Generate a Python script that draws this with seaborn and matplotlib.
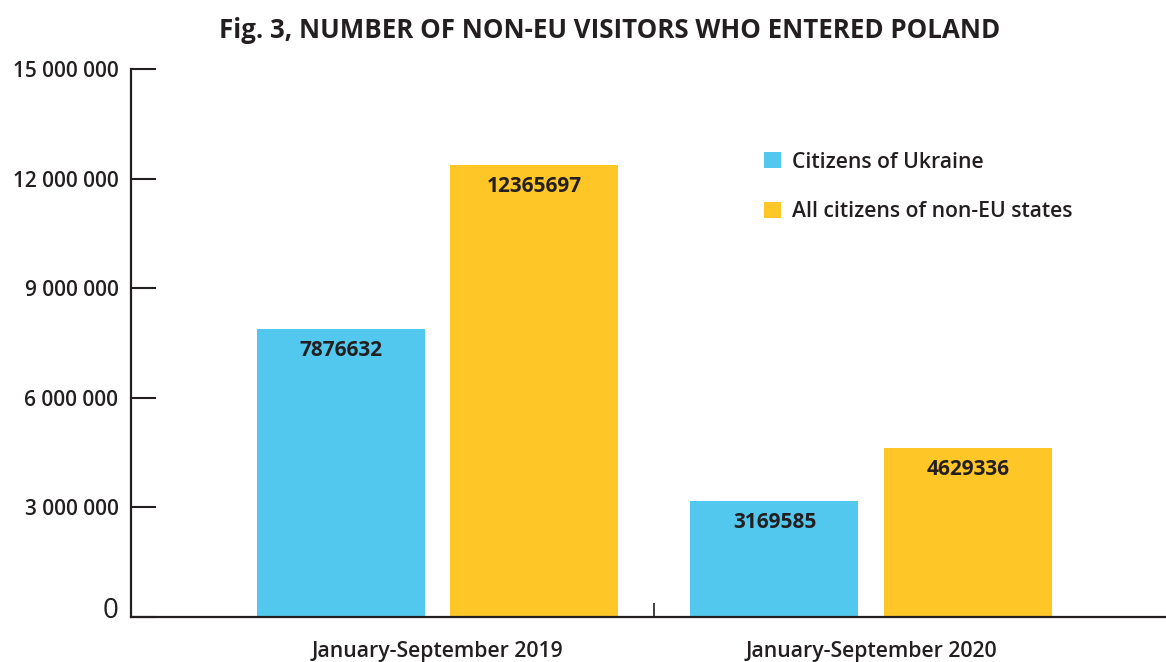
import matplotlib
matplotlib.use("Agg")
import matplotlib.pyplot as plt
import matplotlib.transforms as mtransforms
import seaborn as sns
import pandas as pd
from matplotlib.ticker import FixedLocator

periods = ["January-September 2019", "January-September 2020"]
groups = ["Citizens of Ukraine", "All citizens of non-EU states"]
ukraine = [7876632, 3169585]
all_non_eu = [12365697, 4629336]
y_ticks = [0, 3000000, 6000000, 9000000, 12000000, 15000000]
y_tick_labels = ["0", "3 000 000", "6 000 000", "9 000 000", "12 000 000", "15 000 000"]
colors = ["#53C8EE", "#FFC627"]

df = pd.DataFrame({
    "period": periods * 2,
    "group": [groups[0]] * 2 + [groups[1]] * 2,
    "value": ukraine + all_non_eu,
})

sns.set_theme(style="white")
plt.rcParams["font.family"] = ["Open Sans", "DejaVu Sans"]
text_color = "#231f20"

fig = plt.figure(figsize=(11.66, 6.62), dpi=100)
ax = fig.add_axes([131 / 1166, 45 / 662, 1 - 131 / 1166, 548 / 662])

sns.barplot(data=df, x="period", y="value", hue="group", hue_order=groups,
            palette=colors, width=0.892, gap=0.131, ax=ax, saturation=1,
            edgecolor="none", linewidth=0)

for cont in ax.containers:
    ax.bar_label(cont, labels=[f"{int(v)}" for v in cont.datavalues],
                 padding=-23, fontsize=15, fontweight="bold", color=text_color)

ax.set_ylim(0, 15000000)
ax.set_xlim(-0.707, 1.68)
ax.set_yticks(y_ticks)
ax.set_yticklabels(y_tick_labels)
ax.set_xlabel("")
ax.set_ylabel("")

for s in ["top", "right"]:
    ax.spines[s].set_visible(False)
for s in ["left", "bottom"]:
    ax.spines[s].set_color(text_color)
    ax.spines[s].set_linewidth(1.6)

ax.tick_params(axis="y", direction="in", length=18, width=1.5, color=text_color,
               pad=9, labelsize=15, labelcolor=text_color, left=True)
for lab in ax.get_yticklabels():
    lab.set_fontweight("semibold")
    if lab.get_text() == "0":
        lab.set_fontsize(20)
        lab.set_fontweight("normal")
        lab.set_transform(lab.get_transform() +
                          mtransforms.ScaledTranslation(0, 9 / 100, fig.dpi_scale_trans))

ax.tick_params(axis="x", which="major", length=0, pad=17, labelsize=15.3,
               labelcolor=text_color)
for lab in ax.get_xticklabels():
    lab.set_fontweight("semibold")
ax.xaxis.set_minor_locator(FixedLocator([0.5]))
ax.tick_params(axis="x", which="minor", direction="in", length=10, width=1.2,
               color=text_color, bottom=True)

handles, labels = ax.get_legend_handles_labels()
ax.legend(handles, labels, loc="upper left", bbox_to_anchor=(0.612, 0.849),
          frameon=False, handlelength=0.8, handleheight=0.8,
          handletextpad=0.5, labelspacing=1.35, borderpad=0, borderaxespad=0,
          prop={"size": 15.2, "weight": "semibold"}, labelcolor=text_color)

fig.text(610 / 1166, 1 - 31 / 662, "Fig. 3, NUMBER OF NON-EU VISITORS WHO ENTERED POLAND",
         ha="center", va="center", fontsize=18.6, fontweight="bold", color=text_color)

fig.savefig("out.png", dpi=100)
